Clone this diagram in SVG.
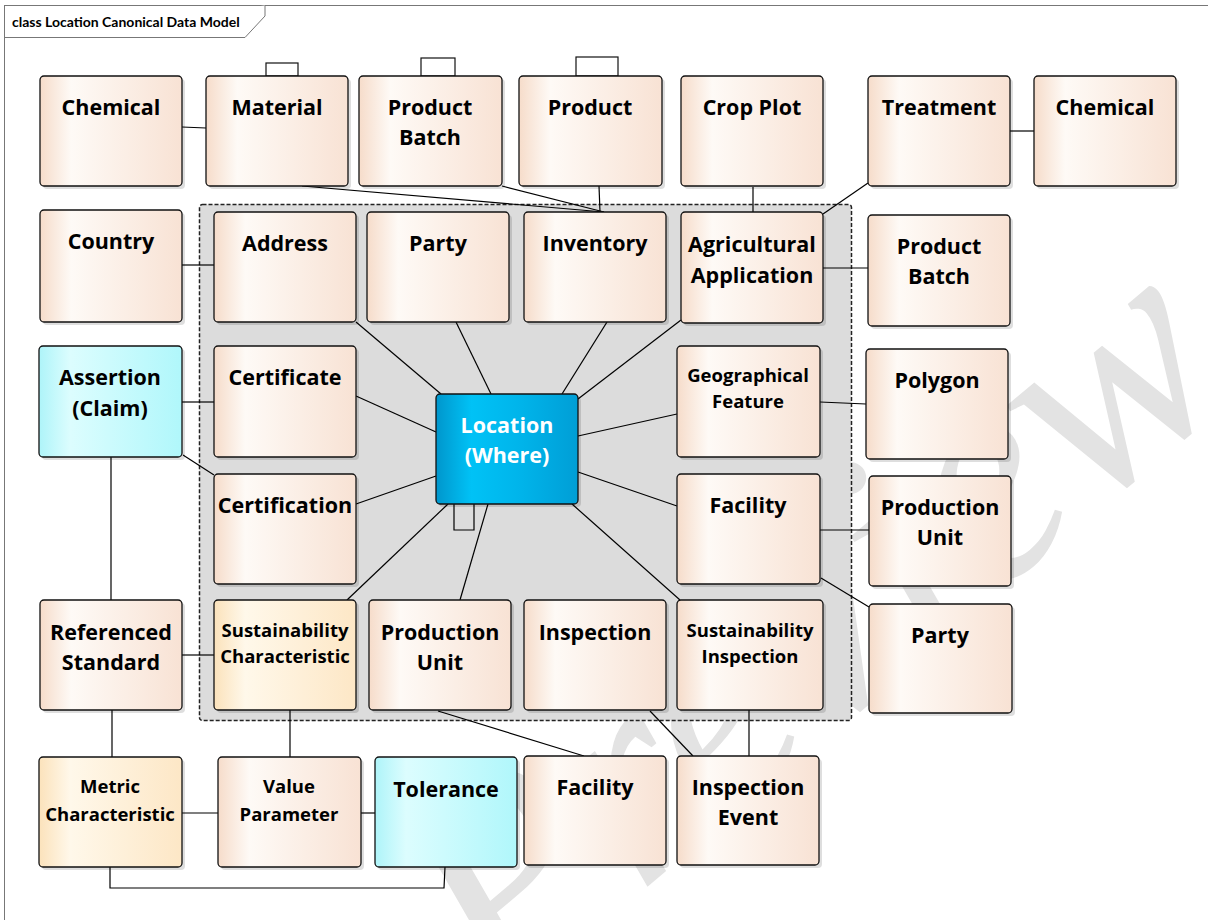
<svg xmlns="http://www.w3.org/2000/svg" width="1208" height="920" viewBox="0 0 1208 920">
<defs>
<linearGradient id="gPeach" x1="0" y1="0" x2="1" y2="0">
<stop offset="0" stop-color="#f6dcca"/><stop offset="0.22" stop-color="#fefaf6"/><stop offset="1" stop-color="#f8e2d4"/>
</linearGradient>
<linearGradient id="gCyan" x1="0" y1="0" x2="1" y2="0">
<stop offset="0" stop-color="#aef4f9"/><stop offset="0.22" stop-color="#dcfdfe"/><stop offset="1" stop-color="#b0f7fb"/>
</linearGradient>
<linearGradient id="gYellow" x1="0" y1="0" x2="1" y2="0">
<stop offset="0" stop-color="#fbe2bb"/><stop offset="0.22" stop-color="#fff8ea"/><stop offset="1" stop-color="#fde7c6"/>
</linearGradient>
<linearGradient id="gBlue" x1="0" y1="0" x2="1" y2="0">
<stop offset="0" stop-color="#0096cc"/><stop offset="0.25" stop-color="#00c2f6"/><stop offset="0.6" stop-color="#00b4ea"/><stop offset="1" stop-color="#009ed6"/>
</linearGradient>
</defs>
<style>
.sh{fill:#000;opacity:0.13}
.n{stroke:#111;stroke-width:1.3;fill:url(#gPeach)}
.c{fill:url(#gCyan)}
.y{fill:url(#gYellow)}
.b{fill:url(#gBlue)}
.t{font-family:"Open Sans","Liberation Sans",sans-serif;font-weight:bold;font-size:21.5px;fill:#000;text-anchor:middle}
.s{font-size:18.5px}
.w{fill:#fff}
.tab{fill:#fff;stroke:#111;stroke-width:1.2}
.cn line,.cn polyline{stroke:#000;stroke-width:1.2;fill:none}
</style>
<rect x="0" y="0" width="1208" height="920" fill="#fff"/>
<text x="870" y="700" transform="rotate(-40 870 700)" font-family="'Liberation Serif',serif" font-style="italic" font-size="300" fill="#e3e3e3" text-anchor="middle">Preview</text>
<g id="frame">
<rect x="4.5" y="5.5" width="1210" height="920" fill="none" stroke="#777" stroke-width="1"/>
<path d="M4.5 37.5 H245 L265 16 V5.5" fill="#fff" stroke="#777" stroke-width="1"/>
<text x="12" y="27" font-family="Lato,'Liberation Sans',sans-serif" font-weight="bold" font-size="14" fill="#000">class Location Canonical Data Model</text>
</g>
<g id="boundary">
<rect x="199.5" y="204.5" width="652" height="516" rx="3" fill="#dcdcdc" stroke="#222" stroke-width="1.5" stroke-dasharray="4,2"/>
</g>
<g id="connectors" class="cn">
<line x1="182" y1="127" x2="206" y2="128"/>
<line x1="302" y1="186" x2="604" y2="212"/>
<line x1="502" y1="186" x2="604" y2="212"/>
<line x1="599" y1="186" x2="600" y2="212"/>
<line x1="753" y1="187" x2="753" y2="212"/>
<line x1="868" y1="183" x2="823" y2="214"/>
<line x1="1010" y1="131" x2="1034" y2="131"/>
<line x1="182" y1="265" x2="214" y2="265"/>
<line x1="823" y1="268" x2="868" y2="268"/>
<line x1="182" y1="402" x2="214" y2="402"/>
<line x1="183" y1="455" x2="214" y2="475"/>
<line x1="111" y1="457" x2="111" y2="600"/>
<line x1="820" y1="402" x2="866" y2="404"/>
<line x1="820" y1="530" x2="869" y2="530"/>
<line x1="821" y1="578" x2="869" y2="607"/>
<line x1="182" y1="655" x2="214" y2="655"/>
<line x1="112" y1="710" x2="112" y2="757"/>
<line x1="290" y1="710" x2="290" y2="757"/>
<line x1="182" y1="813" x2="218" y2="813"/>
<line x1="361" y1="813" x2="375" y2="813"/>
<polyline points="110,867 110,888 444,888 445,867"/>
<line x1="438" y1="711" x2="584" y2="756"/>
<line x1="650" y1="711" x2="693" y2="756"/>
<line x1="749" y1="710" x2="749" y2="756"/>
<line x1="356" y1="322" x2="441" y2="394"/>
<line x1="456" y1="322" x2="491" y2="394"/>
<line x1="607" y1="322" x2="562" y2="394"/>
<line x1="681" y1="320" x2="578" y2="399"/>
<line x1="356" y1="396" x2="436" y2="432"/>
<line x1="356" y1="504" x2="436" y2="476"/>
<line x1="347" y1="600" x2="448" y2="504"/>
<line x1="460" y1="600" x2="488" y2="504"/>
<line x1="680" y1="600" x2="572" y2="504"/>
<line x1="578" y1="472" x2="677" y2="506"/>
<line x1="578" y1="436" x2="677" y2="414"/>
<polyline points="454,504 454,530 474,530 474,504"/>
</g>
<g id="n-chemical1"><rect class="sh" x="43" y="79" width="142" height="110" rx="4"/><rect class="n" x="40" y="76" width="142" height="110" rx="4"/><text class="t" x="111" y="115">Chemical</text></g>
<g id="n-material"><rect class="tab" x="266" y="63" width="32" height="13"/><rect class="sh" x="209" y="79" width="142" height="110" rx="4"/><rect class="n" x="206" y="76" width="142" height="110" rx="4"/><text class="t" x="277" y="115">Material</text></g>
<g id="n-productbatch1"><rect class="tab" x="421" y="58" width="34" height="18"/><rect class="sh" x="362" y="79" width="143" height="110" rx="4"/><rect class="n" x="359" y="76" width="143" height="110" rx="4"/><text class="t" x="430" y="115">Product</text><text class="t" x="430" y="145">Batch</text></g>
<g id="n-product"><rect class="tab" x="576" y="57" width="42" height="19"/><rect class="sh" x="522" y="79" width="143" height="110" rx="4"/><rect class="n" x="519" y="76" width="143" height="110" rx="4"/><text class="t" x="590" y="115">Product</text></g>
<g id="n-cropplot"><rect class="sh" x="684" y="79" width="142" height="110" rx="4"/><rect class="n" x="681" y="76" width="142" height="110" rx="4"/><text class="t" x="752" y="115">Crop Plot</text></g>
<g id="n-treatment"><rect class="sh" x="871" y="79" width="142" height="110" rx="4"/><rect class="n" x="868" y="76" width="142" height="110" rx="4"/><text class="t" x="939" y="115">Treatment</text></g>
<g id="n-chemical2"><rect class="sh" x="1037" y="79" width="142" height="110" rx="4"/><rect class="n" x="1034" y="76" width="142" height="110" rx="4"/><text class="t" x="1105" y="115">Chemical</text></g>
<g id="n-country"><rect class="sh" x="43" y="213" width="142" height="112" rx="4"/><rect class="n" x="40" y="210" width="142" height="112" rx="4"/><text class="t" x="111" y="249">Country</text></g>
<g id="n-address"><rect class="sh" x="217" y="215" width="142" height="110" rx="4"/><rect class="n" x="214" y="212" width="142" height="110" rx="4"/><text class="t" x="285" y="251">Address</text></g>
<g id="n-party1"><rect class="sh" x="370" y="215" width="142" height="110" rx="4"/><rect class="n" x="367" y="212" width="142" height="110" rx="4"/><text class="t" x="438" y="251">Party</text></g>
<g id="n-inventory"><rect class="sh" x="527" y="215" width="142" height="110" rx="4"/><rect class="n" x="524" y="212" width="142" height="110" rx="4"/><text class="t" x="595" y="251">Inventory</text></g>
<g id="n-agapp"><rect class="sh" x="684" y="215" width="142" height="111" rx="4"/><rect class="n" x="681" y="212" width="142" height="111" rx="4"/><text class="t" x="752" y="252">Agricultural</text><text class="t" x="752" y="283">Application</text></g>
<g id="n-productbatch2"><rect class="sh" x="871" y="218" width="142" height="111" rx="4"/><rect class="n" x="868" y="215" width="142" height="111" rx="4"/><text class="t" x="939" y="254">Product</text><text class="t" x="939" y="284">Batch</text></g>
<g id="n-assertion"><rect class="sh" x="42" y="349" width="143" height="111" rx="4"/><rect class="n c" x="39" y="346" width="143" height="111" rx="4"/><text class="t" x="110" y="385">Assertion</text><text class="t" x="110" y="416">(Claim)</text></g>
<g id="n-certificate"><rect class="sh" x="217" y="349" width="142" height="111" rx="4"/><rect class="n" x="214" y="346" width="142" height="111" rx="4"/><text class="t" x="285" y="385">Certificate</text></g>
<g id="n-location"><rect class="sh" x="439" y="397" width="142" height="110" rx="4"/><rect class="n b" x="436" y="394" width="142" height="110" rx="4"/><text class="t w" x="507" y="433">Location</text><text class="t w" x="507" y="463">(Where)</text></g>
<g id="n-geofeature"><rect class="sh" x="680" y="349" width="143" height="111" rx="4"/><rect class="n" x="677" y="346" width="143" height="111" rx="4"/><text class="t s" x="748" y="382">Geographical</text><text class="t s" x="748" y="408">Feature</text></g>
<g id="n-polygon"><rect class="sh" x="869" y="352" width="142" height="110" rx="4"/><rect class="n" x="866" y="349" width="142" height="110" rx="4"/><text class="t" x="937" y="388">Polygon</text></g>
<g id="n-certification"><rect class="sh" x="217" y="477" width="142" height="110" rx="4"/><rect class="n" x="214" y="474" width="142" height="110" rx="4"/><text class="t" x="285" y="513">Certification</text></g>
<g id="n-facility1"><rect class="sh" x="680" y="477" width="143" height="110" rx="4"/><rect class="n" x="677" y="474" width="143" height="110" rx="4"/><text class="t" x="748" y="513">Facility</text></g>
<g id="n-productionunit2"><rect class="sh" x="872" y="479" width="142" height="110" rx="4"/><rect class="n" x="869" y="476" width="142" height="110" rx="4"/><text class="t" x="940" y="515">Production</text><text class="t" x="940" y="545">Unit</text></g>
<g id="n-refstandard"><rect class="sh" x="43" y="603" width="142" height="110" rx="4"/><rect class="n" x="40" y="600" width="142" height="110" rx="4"/><text class="t" x="111" y="640">Referenced</text><text class="t" x="111" y="670">Standard</text></g>
<g id="n-sustchar"><rect class="sh" x="217" y="603" width="142" height="110" rx="4"/><rect class="n y" x="214" y="600" width="142" height="110" rx="4"/><text class="t s" x="285" y="637">Sustainability</text><text class="t s" x="285" y="663">Characteristic</text></g>
<g id="n-productionunit1"><rect class="sh" x="372" y="603" width="142" height="110" rx="4"/><rect class="n" x="369" y="600" width="142" height="110" rx="4"/><text class="t" x="440" y="640">Production</text><text class="t" x="440" y="670">Unit</text></g>
<g id="n-inspection"><rect class="sh" x="527" y="603" width="142" height="110" rx="4"/><rect class="n" x="524" y="600" width="142" height="110" rx="4"/><text class="t" x="595" y="640">Inspection</text></g>
<g id="n-sustinspection"><rect class="sh" x="680" y="603" width="146" height="110" rx="4"/><rect class="n" x="677" y="600" width="146" height="110" rx="4"/><text class="t s" x="750" y="637">Sustainability</text><text class="t s" x="750" y="663">Inspection</text></g>
<g id="n-party2"><rect class="sh" x="872" y="607" width="143" height="109" rx="4"/><rect class="n" x="869" y="604" width="143" height="109" rx="4"/><text class="t" x="940" y="643">Party</text></g>
<g id="n-metricchar"><rect class="sh" x="42" y="760" width="143" height="110" rx="4"/><rect class="n y" x="39" y="757" width="143" height="110" rx="4"/><text class="t s" x="110" y="793">Metric</text><text class="t s" x="110" y="821">Characteristic</text></g>
<g id="n-valueparam"><rect class="sh" x="221" y="760" width="143" height="110" rx="4"/><rect class="n" x="218" y="757" width="143" height="110" rx="4"/><text class="t s" x="289" y="793">Value</text><text class="t s" x="289" y="821">Parameter</text></g>
<g id="n-tolerance"><rect class="sh" x="378" y="760" width="142" height="110" rx="4"/><rect class="n c" x="375" y="757" width="142" height="110" rx="4"/><text class="t" x="446" y="797">Tolerance</text></g>
<g id="n-facility2"><rect class="sh" x="527" y="759" width="142" height="109" rx="4"/><rect class="n" x="524" y="756" width="142" height="109" rx="4"/><text class="t" x="595" y="795">Facility</text></g>
<g id="n-inspevent"><rect class="sh" x="680" y="759" width="142" height="109" rx="4"/><rect class="n" x="677" y="756" width="142" height="109" rx="4"/><text class="t" x="748" y="795">Inspection</text><text class="t" x="748" y="825">Event</text></g>
</svg>
